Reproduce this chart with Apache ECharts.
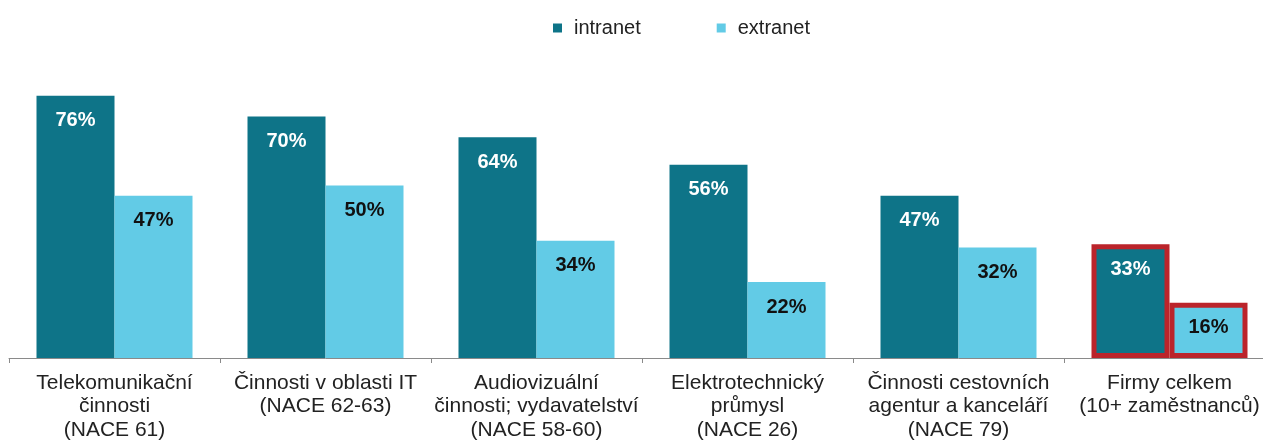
<!DOCTYPE html>
<html><head><meta charset="utf-8">
<script src="https://cdn.jsdelivr.net/npm/echarts@6/dist/echarts.min.js"></script>
<style>html,body{margin:0;padding:0;background:#fff;overflow:hidden;width:1263px;height:442px}#c{width:1290px;height:442px}</style>
</head><body><div id="c"></div>
<script>
const categories = [
  "Telekomunikační\nčinnosti\n(NACE 61)",
  "Činnosti v oblasti IT\n(NACE 62-63)",
  "Audiovizuální\nčinnosti; vydavatelství\n(NACE 58-60)",
  "Elektrotechnický\nprůmysl\n(NACE 26)",
  "Činnosti cestovních\nagentur a kanceláří\n(NACE 79)",
  "Firmy celkem\n(10+ zaměstnanců)"
];
const intranet = [76, 70, 64, 56, 47, 33];
const extranet = [47, 50, 34, 22, 32, 16];
const highlightIndex = 5;

function items(arr) {
  return arr.map((v, i) => i === highlightIndex
    ? { value: v, itemStyle: { borderColor: '#bb242b', borderWidth: 5 } }
    : v);
}
const chart = echarts.init(document.getElementById('c'));
chart.setOption({
  animation: false,
  textStyle: { fontFamily: 'Liberation Sans, Arial, sans-serif' },
  legend: {
    top: 13, left: 548, itemWidth: 9, itemHeight: 9, itemGap: 76,
    icon: 'rect',
    textStyle: { fontSize: 20, color: '#222', padding: [0, 0, 0, 7] },
    data: ['intranet', 'extranet']
  },
  grid: { left: 9, width: 1266, top: 82, bottom: 84, containLabel: false },
  xAxis: {
    type: 'category', data: categories,
    axisLine: { lineStyle: { color: '#8a8a8a', width: 1 } },
    axisTick: { show: true, length: 5, lineStyle: { color: '#8a8a8a' } },
    axisLabel: { fontSize: 21, color: '#222', lineHeight: 23.5, margin: 13, interval: 0 }
  },
  yAxis: { type: 'value', min: 0, max: 80, show: false, splitLine: { show: false } },
  series: [
    {
      name: 'intranet', type: 'bar', data: items(intranet), barWidth: 78, barGap: '0%',
      itemStyle: { color: '#0e7488' },
      label: { show: true, position: 'insideTop', distance: 15, formatter: '{c}%',
        color: '#fff', fontSize: 20, fontWeight: 'bold' }
    },
    {
      name: 'extranet', type: 'bar', data: items(extranet), barWidth: 78,
      itemStyle: { color: '#62cbe6' },
      label: { show: true, position: 'insideTop', distance: 15, formatter: '{c}%',
        color: '#111', fontSize: 20, fontWeight: 'bold' }
    }
  ]
});
</script></body></html>
